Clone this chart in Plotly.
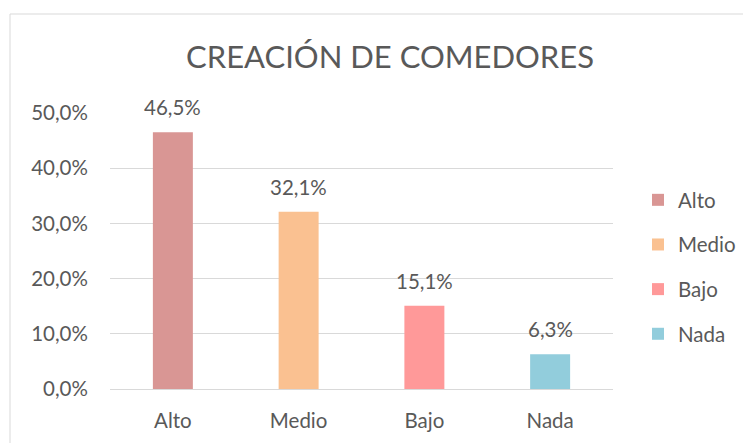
import plotly.graph_objects as go

categories = ["Alto", "Medio", "Bajo", "Nada"]
values = [0.465, 0.321, 0.151, 0.063]
colors = ["#d99694", "#fac191", "#ff9999", "#92cddc"]
y_ticks = [0, 0.1, 0.2, 0.3, 0.4, 0.5]

FONT = "Lato"
TXT = "#595959"
FS = 20.5

W, H = 743, 435          # page body has an 8px margin
L, R, T, B = 102, 138, 105, 54
PW, PH = W - L - R, H - T - B

fig = go.Figure()
for c, v, col in zip(categories, values, colors):
    fig.add_trace(go.Bar(
        x=[c], y=[v], name=c, marker=dict(color=col, line=dict(width=0)),
        width=0.318, legendgroup=c, hoverinfo="skip",
    ))

for c, v in zip(categories, values):
    fig.add_annotation(
        x=c, y=v, text=f"{v*100:.1f}%".replace(".", ","),
        showarrow=False, yanchor="bottom", yshift=11,
        font=dict(family=FONT, size=FS, color=TXT),
    )

# outer chart border
fig.add_shape(type="rect", xref="paper", yref="paper",
              x0=(2 - L) / PW, x1=(W + 20 - L) / PW,
              y0=-(B + 20) / PH, y1=(T + PH - 6) / PH,
              line=dict(color="#d9d9d9", width=1), fillcolor="rgba(0,0,0,0)",
              layer="below")

fig.update_layout(
    width=W, height=H,
    margin=dict(l=L, r=R, t=T, b=B),
    paper_bgcolor="white", plot_bgcolor="white",
    separators=",.",
    barmode="overlay",
    font=dict(family=FONT, color=TXT, size=FS),
    title=dict(text="CREACIÓN DE COMEDORES", x=382 / W, xanchor="center",
               xref="container", y=(H - 49) / H, yanchor="middle",
               yref="container",
               font=dict(family=FONT, size=31, color=TXT)),
    showlegend=True,
    legend=dict(x=630 / W, xref="container", xanchor="left",
                y=(H - 259) / H, yref="container", yanchor="middle",
                traceorder="grouped", tracegroupgap=15,
                font=dict(family=FONT, size=FS, color=TXT),
                itemclick=False, itemdoubleclick=False),
    xaxis=dict(categoryorder="array", categoryarray=categories,
               showline=True, linecolor="#d9d9d9", linewidth=1,
               ticks="outside", ticklen=13, tickcolor="rgba(0,0,0,0)",
               showgrid=False, fixedrange=True),
    yaxis=dict(range=[0, 0.5], tickvals=y_ticks, tickformat=".1%",
               showgrid=True, gridcolor="#d9d9d9", gridwidth=1,
               zeroline=False, showline=False,
               ticks="outside", ticklen=17, tickcolor="rgba(0,0,0,0)",
               fixedrange=True),
)

fig.write_html("out.html")
